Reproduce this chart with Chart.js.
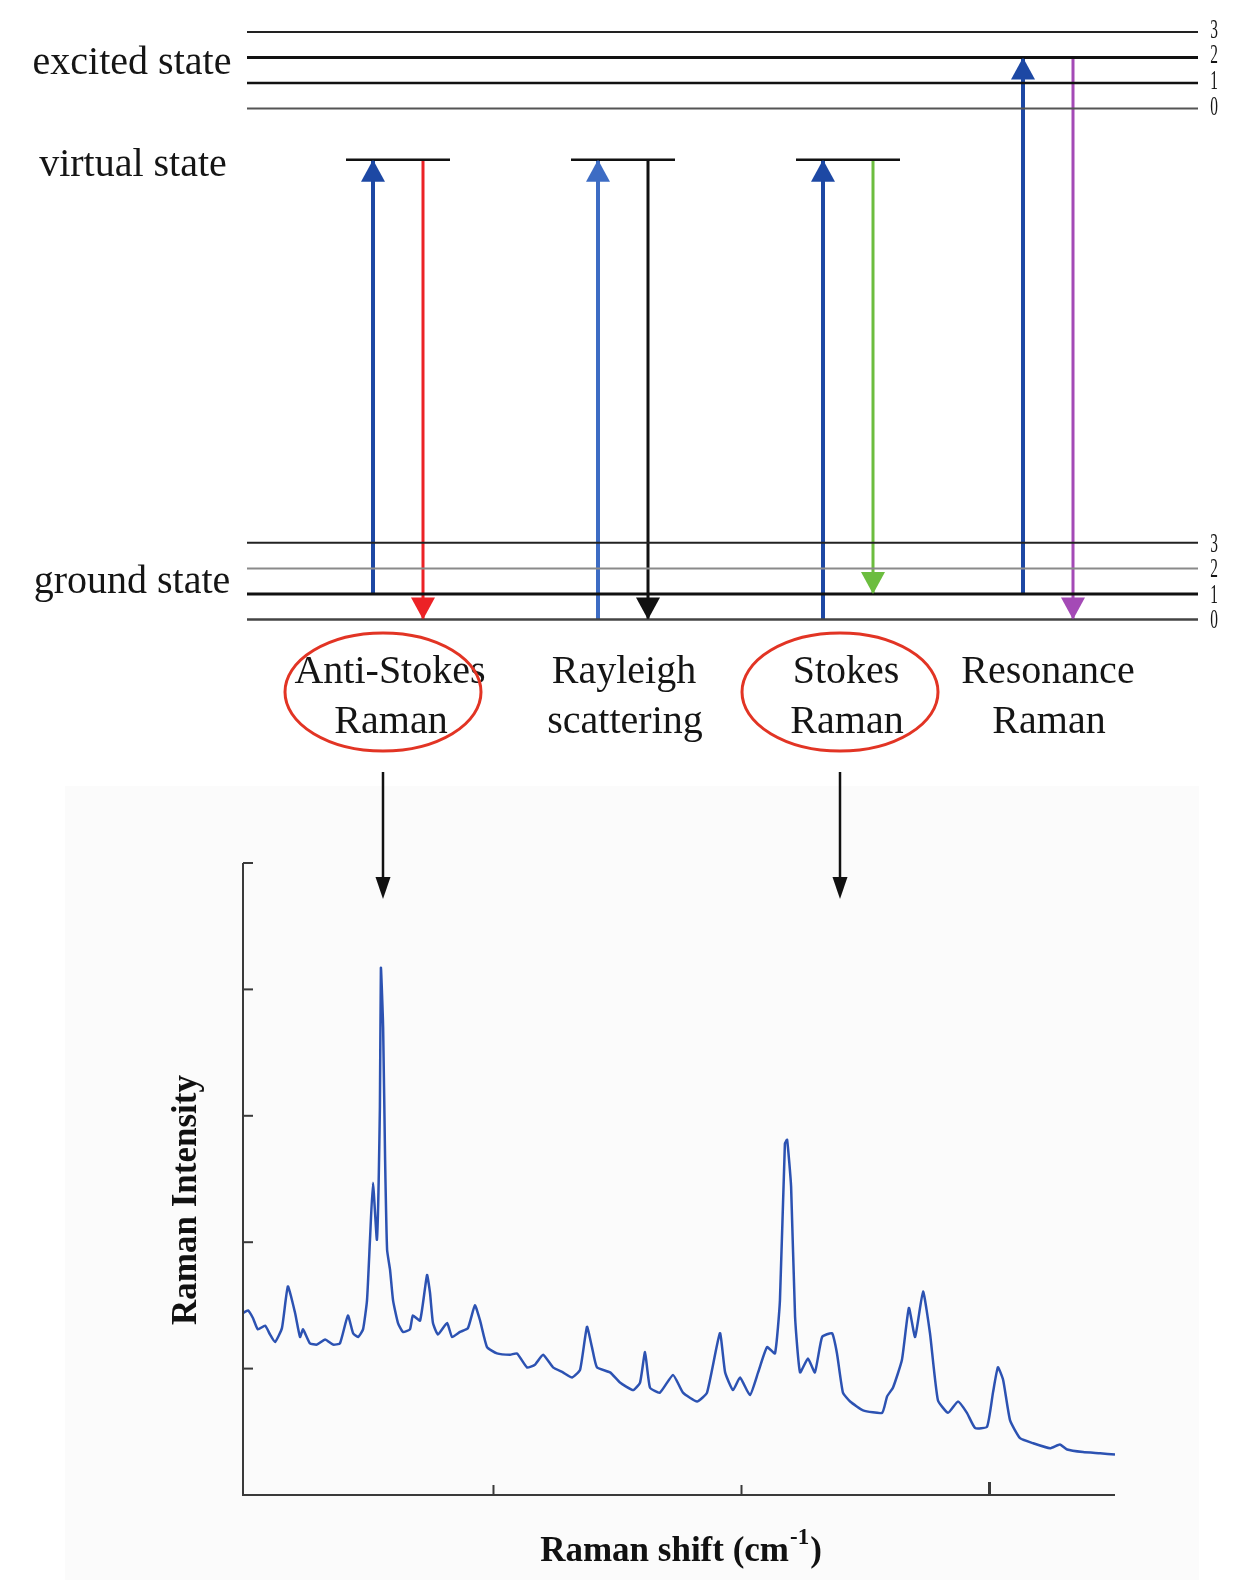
<!DOCTYPE html>
<html>
<head>
<meta charset="utf-8">
<script src="https://cdn.jsdelivr.net/npm/chart.js@4.4.0/dist/chart.umd.min.js"></script>
<style>
  html, body { margin: 0; padding: 0; background: #ffffff; }
  body { width: 1234px; height: 1580px; position: relative; overflow: hidden; }
  #spec { position: absolute; left: 0; top: 760px; }
  #diag { position: absolute; left: 0; top: 0; }
</style>
</head>
<body>
<canvas id="spec" width="1234" height="820"></canvas>
<canvas id="diag" width="1234" height="910"></canvas>
<script>
// ---------------- DATA ----------------
const groundLevels = [0, 1, 2, 3];
const excitedLevels = [20, 21, 22, 23];
const levelNumbers = ['0', '1', '2', '3'];
const virtualLevel = 18;
const stateNames = ['excited state', 'virtual state', 'ground state'];
const processLine1 = ['Anti-Stokes', 'Rayleigh', 'Stokes', 'Resonance'];
const processLine2 = ['Raman', 'scattering', 'Raman', 'Raman'];
const excitationFrom = [1, 0, 0, 1];
const excitationTo = [18, 18, 18, 22];
const emissionFrom = [18, 18, 18, 22];
const emissionTo = [0, 0, 1, 0];
const usesVirtualState = [true, true, true, false];
const highlighted = [true, false, true, false];

const shiftValues = [0.000,0.020,0.040,0.060,0.089,0.109,0.129,0.157,0.181,0.210,
  0.230,0.242,0.270,0.298,0.331,0.363,0.391,0.423,0.444,0.464,
  0.484,0.500,0.512,0.524,0.540,0.552,0.556,0.565,0.573,0.581,
  0.593,0.605,0.625,0.645,0.673,0.685,0.714,0.742,0.754,0.766,
  0.786,0.823,0.843,0.875,0.907,0.935,0.956,0.984,1.024,1.077,
  1.105,1.145,1.177,1.210,1.250,1.290,1.327,1.359,1.387,1.407,
  1.427,1.480,1.520,1.573,1.601,1.621,1.641,1.681,1.734,1.774,
  1.831,1.871,1.923,1.944,1.976,2.004,2.044,2.077,2.113,2.145,
  2.165,2.185,2.194,2.210,2.226,2.246,2.278,2.306,2.335,2.375,
  2.395,2.419,2.448,2.500,2.577,2.597,2.621,2.657,2.685,2.710,
  2.742,2.770,2.802,2.843,2.883,2.919,2.952,3.000,3.024,3.044,
  3.065,3.093,3.133,3.185,3.254,3.294,3.323,3.387,3.456,3.516];
const intensityValues = [1.44,1.46,1.40,1.31,1.34,1.27,1.21,1.32,1.65,1.44,
  1.25,1.31,1.20,1.19,1.23,1.19,1.20,1.42,1.28,1.25,
  1.31,1.54,2.02,2.47,2.02,3.07,4.17,3.70,2.65,1.94,
  1.78,1.54,1.36,1.29,1.31,1.42,1.38,1.74,1.60,1.36,
  1.27,1.36,1.25,1.29,1.32,1.50,1.38,1.17,1.12,1.11,
  1.12,1.01,1.03,1.11,1.01,0.97,0.93,0.99,1.33,1.17,
  1.01,0.97,0.89,0.83,0.89,1.13,0.85,0.81,0.95,0.81,
  0.74,0.81,1.28,0.97,0.83,0.93,0.79,0.97,1.17,1.12,
  1.54,2.78,2.81,2.44,1.41,0.97,1.08,0.97,1.25,1.28,
  1.12,0.81,0.74,0.67,0.65,0.78,0.85,1.07,1.48,1.25,
  1.61,1.28,0.75,0.65,0.74,0.65,0.53,0.54,0.81,1.01,
  0.91,0.59,0.45,0.41,0.37,0.40,0.36,0.34,0.33,0.32];
const xTickValues = [1.01, 2.01, 3.01];
const yTickValues = [1, 2, 3, 4, 5];
const xAxisTitle = 'Raman shift (cm';
const xAxisTitleSup = '-1';
const xAxisTitleEnd = ')';
const yAxisTitle = 'Raman Intensity';

// ---------------- LAYOUT / STYLE ----------------
const SERIF = '"Liberation Serif", "Times New Roman", serif';
const LEVEL_LEFT = 247, LEVEL_RIGHT = 1198;
const upArrowX = [373, 598, 823, 1023];
const downArrowX = [423, 648, 873, 1073];
const VIRTUAL_HALF = 52;
const labelCenterX = [390, 624, 846, 1048];
const ellipseCenterX = [383, 0, 840, 0];
const upColors = ['#1d48a4', '#3d6cc4', '#1d48a4', '#1d48a4'];
const downColors = ['#ec2226', '#111111', '#6cbd3f', '#a44ab6'];
const groundStyle = [{c:'#444', w:2.5}, {c:'#111', w:3}, {c:'#8a8a8a', w:2}, {c:'#222', w:2}];
const excitedStyle = [{c:'#555', w:2}, {c:'#111', w:2.5}, {c:'#111', w:3}, {c:'#222', w:2}];

Chart.defaults.animation = false;

// ---------------- DIAGRAM CHART ----------------
const diagDatasets = [];
const arrowInfo = [];
function lineDs(p0, p1, color, width) {
  return { data: [p0, p1], borderColor: color, borderWidth: width, showLine: true,
           pointRadius: 0, fill: false, tension: 0, borderCapStyle: 'butt' };
}
groundLevels.forEach((v, i) => diagDatasets.push(lineDs({x: LEVEL_LEFT, y: v}, {x: LEVEL_RIGHT, y: v}, groundStyle[i].c, groundStyle[i].w)));
excitedLevels.forEach((v, i) => diagDatasets.push(lineDs({x: LEVEL_LEFT, y: v}, {x: LEVEL_RIGHT, y: v}, excitedStyle[i].c, excitedStyle[i].w)));
usesVirtualState.forEach((u, i) => {
  if (!u) return;
  const c = (upArrowX[i] + downArrowX[i]) / 2;
  diagDatasets.push(lineDs({x: c - VIRTUAL_HALF, y: virtualLevel}, {x: c + VIRTUAL_HALF, y: virtualLevel}, '#111', 2.5));
});
processLine1.forEach((_, i) => {
  arrowInfo.push({ idx: diagDatasets.length, up: true, color: upColors[i] });
  diagDatasets.push(lineDs({x: upArrowX[i], y: excitationFrom[i]}, {x: upArrowX[i], y: excitationTo[i]}, upColors[i], 4));
  arrowInfo.push({ idx: diagDatasets.length, up: false, color: downColors[i] });
  diagDatasets.push(lineDs({x: downArrowX[i], y: emissionFrom[i]}, {x: downArrowX[i], y: emissionTo[i]}, downColors[i], 3));
});

function head(ctx, x, y, up, w, h, color) {
  ctx.beginPath();
  ctx.moveTo(x, y);
  ctx.lineTo(x - w / 2, up ? y + h : y - h);
  ctx.lineTo(x + w / 2, up ? y + h : y - h);
  ctx.closePath();
  ctx.fillStyle = color;
  ctx.fill();
}

const diagPlugin = {
  id: 'diagDecor',
  afterDatasetsDraw(chart) {
    const ctx = chart.ctx;
    const ys = chart.scales.y;
    ctx.save();
    arrowInfo.forEach(a => {
      const p = chart.getDatasetMeta(a.idx).data[1];
      head(ctx, p.x, p.y, a.up, 24, 22, a.color);
    });
    // state names
    ctx.fillStyle = '#151515';
    ctx.font = '40px ' + SERIF;
    ctx.textAlign = 'center';
    ctx.textBaseline = 'alphabetic';
    ctx.fillText(stateNames[0], 132, 74);
    ctx.fillText(stateNames[1], 133, 176);
    ctx.fillText(stateNames[2], 132, 593);
    // level numbers
    ctx.font = '28px ' + SERIF;
    ctx.textBaseline = 'middle';
    const drawNum = (t, y) => {
      ctx.save();
      ctx.translate(1214, y);
      ctx.scale(0.55, 0.95);
      ctx.fillText(t, 0, 0);
      ctx.restore();
    };
    excitedLevels.forEach((v, i) => drawNum(levelNumbers[i], ys.getPixelForValue(v) - 1));
    groundLevels.forEach((v, i) => drawNum(levelNumbers[i], ys.getPixelForValue(v) + 2));
    // process labels
    ctx.font = '40px ' + SERIF;
    ctx.textBaseline = 'alphabetic';
    processLine1.forEach((t, i) => {
      ctx.fillText(t, labelCenterX[i], 683);
      ctx.fillText(processLine2[i], labelCenterX[i] + 1, 733);
    });
    // ellipses and pointer arrows
    highlighted.forEach((h, i) => {
      if (!h) return;
      const cx = ellipseCenterX[i];
      ctx.beginPath();
      ctx.ellipse(cx, 692, 98, 59, 0, 0, Math.PI * 2);
      ctx.strokeStyle = '#e23424';
      ctx.lineWidth = 3;
      ctx.stroke();
      ctx.beginPath();
      ctx.moveTo(cx, 772);
      ctx.lineTo(cx, 880);
      ctx.strokeStyle = '#111';
      ctx.lineWidth = 2.5;
      ctx.stroke();
      head(ctx, cx, 899, false, 15, 22, '#111');
    });
    ctx.restore();
  }
};

new Chart(document.getElementById('diag'), {
  type: 'scatter',
  data: { datasets: diagDatasets },
  options: {
    responsive: false,
    animation: false,
    layout: { padding: { left: 0, right: 0, top: 0, bottom: 150 } },
    scales: {
      x: { type: 'linear', min: 0, max: 1234, display: false },
      y: { type: 'linear', min: -5.5, max: 24.25, display: false }
    },
    plugins: { legend: { display: false }, tooltip: { enabled: false } }
  },
  plugins: [diagPlugin]
});

// ---------------- SPECTRUM CHART ----------------
const specPoints = shiftValues.map((x, i) => ({ x: x, y: intensityValues[i] }));

const specPlugin = {
  id: 'specDecor',
  beforeDraw(chart) {
    const ctx = chart.ctx;
    ctx.save();
    ctx.fillStyle = '#fbfbfb';
    ctx.fillRect(65, 26, 1134, 794);
    ctx.restore();
  },
  afterDraw(chart) {
    const ctx = chart.ctx;
    const xs = chart.scales.x, ys = chart.scales.y;
    const x0 = xs.getPixelForValue(xs.min), x1 = xs.getPixelForValue(xs.max);
    const y0 = ys.getPixelForValue(ys.min), y1 = ys.getPixelForValue(ys.max);
    ctx.save();
    ctx.strokeStyle = '#3a3a3a';
    ctx.lineWidth = 2;
    ctx.beginPath();
    ctx.moveTo(x0, y1); ctx.lineTo(x0, y0); ctx.lineTo(x1, y0);
    ctx.stroke();
    yTickValues.forEach(v => {
      const y = ys.getPixelForValue(v);
      ctx.beginPath(); ctx.moveTo(x0, y); ctx.lineTo(x0 + 10, y); ctx.stroke();
    });
    xTickValues.forEach((v, i) => {
      const x = xs.getPixelForValue(v);
      ctx.lineWidth = i === 2 ? 3 : 2;
      ctx.beginPath(); ctx.moveTo(x, y0); ctx.lineTo(x, y0 - (i === 2 ? 13 : 10)); ctx.stroke();
    });
    // titles
    ctx.fillStyle = '#111';
    ctx.font = 'bold 35px ' + SERIF;
    ctx.textBaseline = 'alphabetic';
    ctx.textAlign = 'left';
    const w1 = ctx.measureText(xAxisTitle).width;
    ctx.font = 'bold 23px ' + SERIF;
    const w2 = ctx.measureText(xAxisTitleSup).width;
    ctx.font = 'bold 35px ' + SERIF;
    const w3 = ctx.measureText(xAxisTitleEnd).width;
    const total = w1 + w2 + w3 + 2;
    let sx = 681 - total / 2;
    const base = 801;
    ctx.fillText(xAxisTitle, sx, base);
    ctx.font = 'bold 23px ' + SERIF;
    ctx.fillText(xAxisTitleSup, sx + w1 + 1, base - 17);
    ctx.font = 'bold 35px ' + SERIF;
    ctx.fillText(xAxisTitleEnd, sx + w1 + w2 + 2, base);
    ctx.save();
    ctx.translate(187, 440);
    ctx.rotate(-Math.PI / 2);
    ctx.textAlign = 'center';
    ctx.textBaseline = 'middle';
    ctx.fillText(yAxisTitle, 0, 0);
    ctx.restore();
    ctx.restore();
  }
};

new Chart(document.getElementById('spec'), {
  type: 'line',
  data: {
    datasets: [{
      data: specPoints,
      borderColor: '#2c52b2',
      borderWidth: 2.5,
      pointRadius: 0,
      fill: false,
      tension: 0.15
    }]
  },
  options: {
    responsive: false,
    animation: false,
    layout: { padding: { left: 243, right: 119, top: 103, bottom: 85 } },
    scales: {
      x: { type: 'linear', min: 0, max: 3.516, display: false },
      y: { type: 'linear', min: 0, max: 5, display: false }
    },
    plugins: { legend: { display: false }, tooltip: { enabled: false } }
  },
  plugins: [specPlugin]
});
</script>
</body>
</html>
